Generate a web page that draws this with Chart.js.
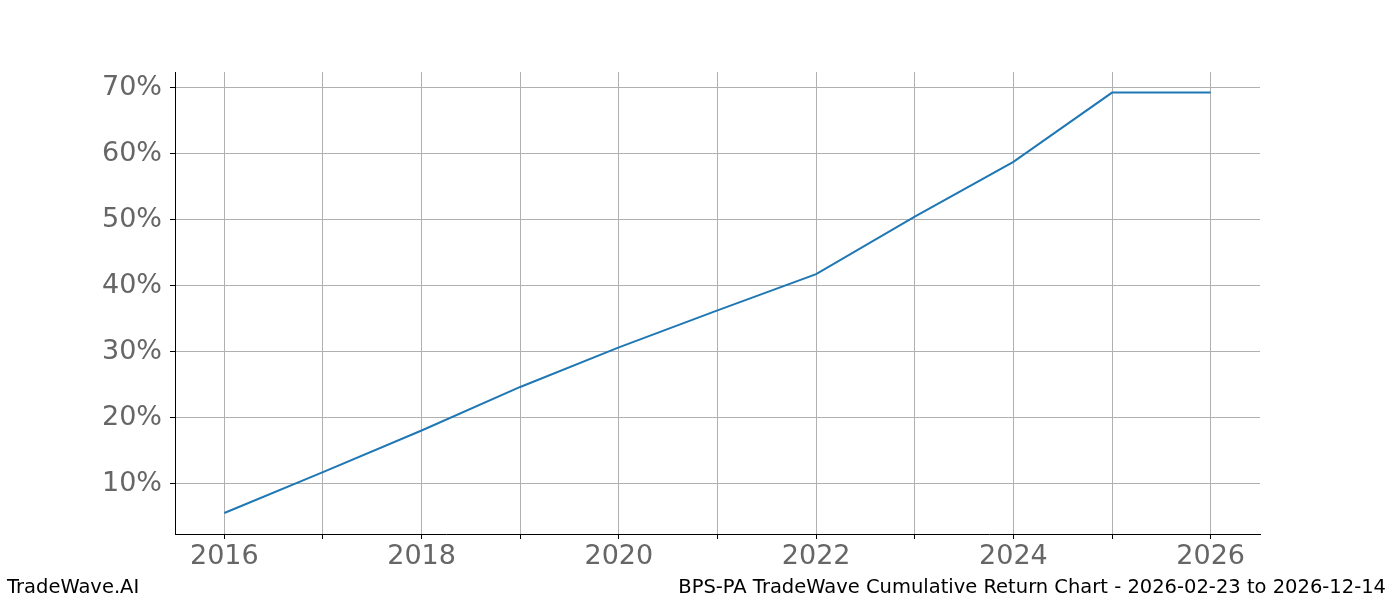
<!DOCTYPE html>
<html>
<head>
<meta charset="utf-8">
<script src="https://cdn.jsdelivr.net/npm/chart.js@4/dist/chart.umd.min.js"></script>
<style>
  html, body { margin: 0; padding: 0; background: #fff; }
  #wrap { position: relative; width: 1400px; height: 600px; }
  canvas { display: block; }
</style>
</head>
<body>
<div id="wrap"><canvas id="c" width="1400" height="600"></canvas></div>
<script>
const years = [2016, 2017, 2018, 2019, 2020, 2021, 2022, 2023, 2024, 2025, 2026];
const returns = [5.6, 11.8, 18.1, 24.7, 30.7, 36.3, 41.8, 50.5, 58.8, 69.3, 69.3];
const yTickValues = [10, 20, 30, 40, 50, 60, 70];
const xTickValues = [2016, 2017, 2018, 2019, 2020, 2021, 2022, 2023, 2024, 2025, 2026];
const leftFooter = 'TradeWave.AI';
const rightFooter = 'BPS-PA TradeWave Cumulative Return Chart - 2026-02-23 to 2026-12-14';

const footerPlugin = {
  id: 'footer',
  afterDraw(chart) {
    const ctx = chart.ctx;
    ctx.save();
    ctx.fillStyle = '#000';
    ctx.font = '19.5px "DejaVu Sans"';
    ctx.textBaseline = 'alphabetic';
    ctx.textAlign = 'left';
    ctx.fillText(leftFooter, 7, 593);
    ctx.textAlign = 'right';
    ctx.fillText(rightFooter, 1386, 593);
    ctx.restore();
  }
};

new Chart(document.getElementById('c'), {
  type: 'line',
  data: {
    datasets: [{
      data: years.map((y, i) => ({ x: y, y: returns[i] })),
      borderColor: '#1f77b4',
      borderWidth: 2,
      pointRadius: 0,
      tension: 0,
      fill: false
    }]
  },
  options: {
    responsive: false,
    animation: false,
    devicePixelRatio: 1,
    layout: { padding: { top: 72, right: 140, left: 0, bottom: 0 } },
    plugins: { legend: { display: false }, tooltip: { enabled: false } },
    scales: {
      x: {
        type: 'linear',
        min: 2015.5,
        max: 2026.5,
        afterBuildTicks: s => { s.ticks = xTickValues.map(v => ({ value: v })); },
        afterFit: s => { s.height = 66; },
        grid: { color: '#b0b0b0', lineWidth: 1, tickColor: '#000', tickLength: 5, drawTicks: true },
        border: { display: true, color: '#000', width: 1 },
        ticks: {
          autoSkip: false,
          maxRotation: 0,
          padding: 2,
          color: '#666666',
          font: { family: 'DejaVu Sans', size: 27 },
          callback: v => (v % 2 === 0 ? String(v) : '')
        }
      },
      y: {
        type: 'linear',
        min: 2.42,
        max: 72.42,
        afterBuildTicks: s => { s.ticks = yTickValues.map(v => ({ value: v })); },
        afterFit: s => { s.width = 175; },
        grid: { color: '#b0b0b0', lineWidth: 1, tickColor: '#000', tickLength: 5, drawTicks: true },
        border: { display: true, color: '#000', width: 1 },
        ticks: {
          padding: 8,
          color: '#666666',
          font: { family: 'DejaVu Sans', size: 27 },
          callback: v => v + '%'
        }
      }
    }
  },
  plugins: [footerPlugin]
});
</script>
</body>
</html>
